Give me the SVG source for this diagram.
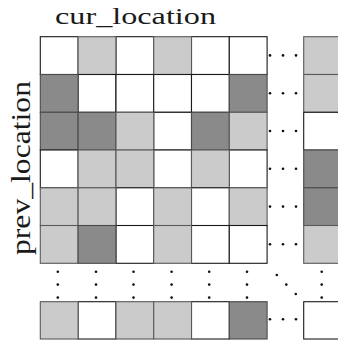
<svg xmlns="http://www.w3.org/2000/svg" width="338" height="341" viewBox="0 0 338 341">
<style>
.w{fill:#ffffff;stroke:#1a1a1a;stroke-width:1.1}
.l{fill:#cbcbcb;stroke:#5a5a5a;stroke-width:1.1}
.d{fill:#8a8a8a;stroke:#4a4a4a;stroke-width:1.1}
.dot{fill:#111}
</style>
<rect width="338" height="341" fill="#fff"/>
<g id="title">
<text x="55" y="24" font-family="Liberation Serif, Times New Roman, serif" font-size="24" fill="#1a1a1a" textLength="161" lengthAdjust="spacingAndGlyphs">cur_location</text>
</g>
<g id="ylabel">
<text transform="translate(29.5,255) rotate(-90)" x="0" y="0" font-family="Liberation Serif, Times New Roman, serif" font-size="28" fill="#1a1a1a" textLength="174" lengthAdjust="spacingAndGlyphs">prev_location</text>
</g>
<g id="row0">
<rect class="w" x="40.3" y="36.7" width="37.8" height="37.8"/><rect class="w" x="116" y="36.7" width="37.8" height="37.8"/><rect class="w" x="191.5" y="36.7" width="37.8" height="37.8"/><rect class="w" x="229.3" y="36.7" width="37.8" height="37.8"/>
<rect class="l" x="78.1" y="36.7" width="37.8" height="37.8"/><rect class="l" x="153.7" y="36.7" width="37.8" height="37.8"/><rect class="l" x="303.7" y="36.7" width="37.8" height="37.8"/>
</g>
<g id="row1">
<rect class="w" x="78.1" y="74.5" width="37.8" height="37.8"/><rect class="w" x="116" y="74.5" width="37.8" height="37.8"/><rect class="w" x="153.7" y="74.5" width="37.8" height="37.8"/><rect class="w" x="191.5" y="74.5" width="37.8" height="37.8"/>
<rect class="d" x="40.3" y="74.5" width="37.8" height="37.8"/><rect class="d" x="229.3" y="74.5" width="37.8" height="37.8"/><rect class="l" x="303.7" y="74.5" width="37.8" height="37.8"/>
</g>
<g id="row2">
<rect class="w" x="153.7" y="112.3" width="37.8" height="37.8"/><rect class="w" x="303.7" y="112.3" width="37.8" height="37.8"/>
<rect class="d" x="40.3" y="112.3" width="37.8" height="37.8"/><rect class="d" x="78.1" y="112.3" width="37.8" height="37.8"/><rect class="l" x="116" y="112.3" width="37.8" height="37.8"/><rect class="d" x="191.5" y="112.3" width="37.8" height="37.8"/><rect class="l" x="229.3" y="112.3" width="37.8" height="37.8"/>
</g>
<g id="row3">
<rect class="w" x="40.3" y="150" width="37.8" height="37.8"/><rect class="w" x="153.7" y="150" width="37.8" height="37.8"/><rect class="w" x="229.3" y="150" width="37.8" height="37.8"/>
<rect class="l" x="78.1" y="150" width="37.8" height="37.8"/><rect class="l" x="116" y="150" width="37.8" height="37.8"/><rect class="l" x="191.5" y="150" width="37.8" height="37.8"/><rect class="d" x="303.7" y="150" width="37.8" height="37.8"/>
</g>
<g id="row4">
<rect class="w" x="116" y="187.8" width="37.8" height="37.8"/><rect class="w" x="191.5" y="187.8" width="37.8" height="37.8"/>
<rect class="l" x="40.3" y="187.8" width="37.8" height="37.8"/><rect class="l" x="78.1" y="187.8" width="37.8" height="37.8"/><rect class="l" x="153.7" y="187.8" width="37.8" height="37.8"/><rect class="l" x="229.3" y="187.8" width="37.8" height="37.8"/><rect class="d" x="303.7" y="187.8" width="37.8" height="37.8"/>
</g>
<g id="row5">
<rect class="w" x="116" y="225.5" width="37.8" height="37.8"/><rect class="w" x="191.5" y="225.5" width="37.8" height="37.8"/><rect class="w" x="229.3" y="225.5" width="37.8" height="37.8"/>
<rect class="l" x="40.3" y="225.5" width="37.8" height="37.8"/><rect class="d" x="78.1" y="225.5" width="37.8" height="37.8"/><rect class="l" x="153.7" y="225.5" width="37.8" height="37.8"/><rect class="l" x="303.7" y="225.5" width="37.8" height="37.8"/>
</g>
<g id="rowN">
<rect class="w" x="78.1" y="301.7" width="37.8" height="37.3"/><rect class="w" x="191.5" y="301.7" width="37.8" height="37.3"/><rect class="w" x="303.7" y="301.7" width="37.8" height="37.3"/>
<rect class="l" x="40.3" y="301.7" width="37.8" height="37.3"/><rect class="l" x="116" y="301.7" width="37.8" height="37.3"/><rect class="l" x="153.7" y="301.7" width="37.8" height="37.3"/><rect class="d" x="229.3" y="301.7" width="37.8" height="37.3"/>
</g>
<g id="dots">
<g id="hdots">
<circle class="dot" cx="270" cy="55.4" r="1.3"/><circle class="dot" cx="283" cy="55.4" r="1.3"/><circle class="dot" cx="296" cy="55.4" r="1.3"/>
<circle class="dot" cx="270" cy="93.2" r="1.3"/><circle class="dot" cx="283" cy="93.2" r="1.3"/><circle class="dot" cx="296" cy="93.2" r="1.3"/>
<circle class="dot" cx="270" cy="131" r="1.3"/><circle class="dot" cx="283" cy="131" r="1.3"/><circle class="dot" cx="296" cy="131" r="1.3"/>
<circle class="dot" cx="270" cy="168.8" r="1.3"/><circle class="dot" cx="283" cy="168.8" r="1.3"/><circle class="dot" cx="296" cy="168.8" r="1.3"/>
<circle class="dot" cx="270" cy="206.6" r="1.3"/><circle class="dot" cx="283" cy="206.6" r="1.3"/><circle class="dot" cx="296" cy="206.6" r="1.3"/>
<circle class="dot" cx="270" cy="244.3" r="1.3"/><circle class="dot" cx="283" cy="244.3" r="1.3"/><circle class="dot" cx="296" cy="244.3" r="1.3"/>
<circle class="dot" cx="270" cy="319.3" r="1.3"/><circle class="dot" cx="283" cy="319.3" r="1.3"/><circle class="dot" cx="296" cy="319.3" r="1.3"/>
</g>
<g id="vdots">
<circle class="dot" cx="57.8" cy="271.7" r="1.3"/><circle class="dot" cx="57.8" cy="284.6" r="1.3"/><circle class="dot" cx="57.8" cy="297.6" r="1.3"/>
<circle class="dot" cx="96" cy="271.7" r="1.3"/><circle class="dot" cx="96" cy="284.6" r="1.3"/><circle class="dot" cx="96" cy="297.6" r="1.3"/>
<circle class="dot" cx="133.5" cy="271.7" r="1.3"/><circle class="dot" cx="133.5" cy="284.6" r="1.3"/><circle class="dot" cx="133.5" cy="297.6" r="1.3"/>
<circle class="dot" cx="171.6" cy="271.7" r="1.3"/><circle class="dot" cx="171.6" cy="284.6" r="1.3"/><circle class="dot" cx="171.6" cy="297.6" r="1.3"/>
<circle class="dot" cx="209.2" cy="271.7" r="1.3"/><circle class="dot" cx="209.2" cy="284.6" r="1.3"/><circle class="dot" cx="209.2" cy="297.6" r="1.3"/>
<circle class="dot" cx="247" cy="271.7" r="1.3"/><circle class="dot" cx="247" cy="284.6" r="1.3"/><circle class="dot" cx="247" cy="297.6" r="1.3"/>
<circle class="dot" cx="321.7" cy="271.7" r="1.3"/><circle class="dot" cx="321.7" cy="284.6" r="1.3"/><circle class="dot" cx="321.7" cy="297.6" r="1.3"/>
</g>
<g id="ddots">
<circle class="dot" cx="276.8" cy="275" r="1.3"/><circle class="dot" cx="286.3" cy="284.6" r="1.3"/><circle class="dot" cx="295.8" cy="294" r="1.3"/>
</g>
</g>
</svg>
